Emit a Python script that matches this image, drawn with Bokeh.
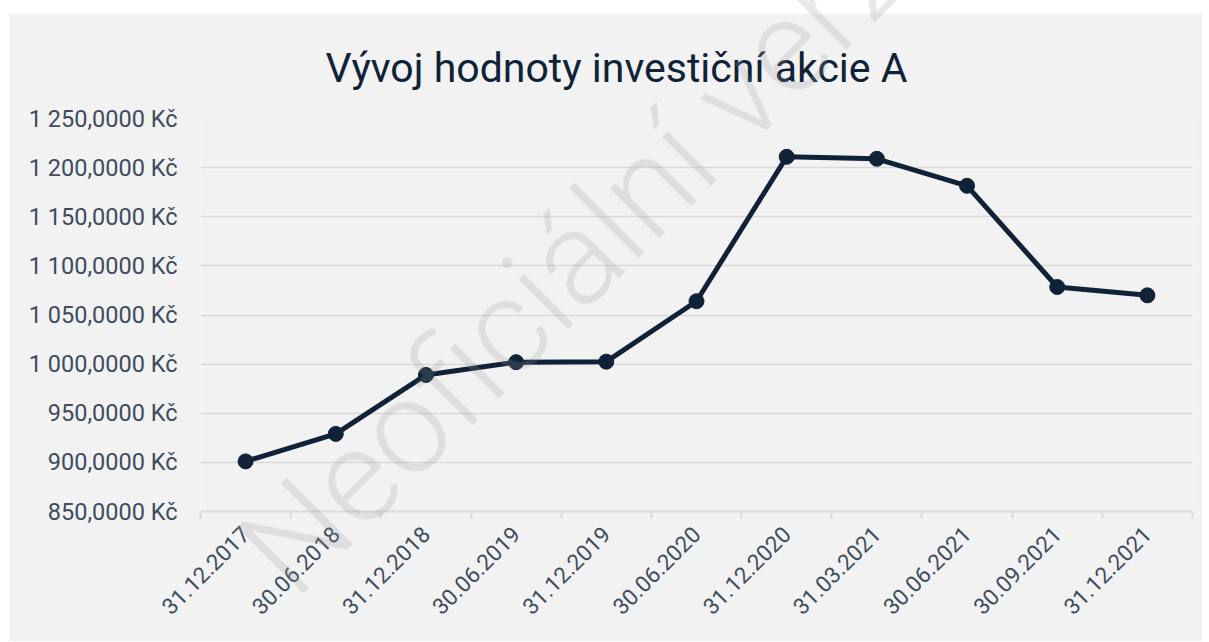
import math
from bokeh.plotting import figure
from bokeh.models import Range1d, FixedTicker, CustomJSTickFormatter, Div, Spacer
from bokeh.layouts import column, row
from bokeh.embed import file_html
from bokeh.resources import INLINE

# ---- data ----
dates = ["31.12.2017", "30.06.2018", "31.12.2018", "30.06.2019", "31.12.2019",
         "30.06.2020", "31.12.2020", "31.03.2021", "30.06.2021", "30.09.2021",
         "31.12.2021"]
values = [901.0, 929.0, 989.0, 1002.0, 1002.5, 1064.0, 1211.0, 1209.0, 1181.5,
          1078.5, 1070.0]
y_ticks = [850, 900, 950, 1000, 1050, 1100, 1150, 1200, 1250]
title_text = "Vývoj hodnoty investiční akcie A"
watermark_text = "Neoficiální verze"

NAVY = "#0f2238"
LABEL = "#3e4c5e"
GRID = "#d9d9d9"
BG = "#f2f2f2"

n = len(dates)
xs = [i + 0.5 for i in range(n)]

p = figure(width=1193, height=628, output_backend="svg", toolbar_location=None,
           x_range=Range1d(0, n), y_range=Range1d(y_ticks[0], y_ticks[-1]),
           min_border_left=191, min_border_right=10, min_border_top=105,
           min_border_bottom=130, background_fill_color=BG,
           border_fill_color=BG, outline_line_color=None)

p.title.text = title_text
p.title.text_font = "Roboto"
p.title.text_font_size = "41px"
p.title.text_font_style = "normal"
p.title.text_color = NAVY
p.title.align = "left"
p.title.offset = 125
p.title.standoff = 54

# x axis
xa = p.xaxis[0]
xa.ticker = FixedTicker(ticks=xs, minor_ticks=list(range(n + 1)))
xa.formatter = CustomJSTickFormatter(args=dict(labels=dates),
                                     code="return labels[Math.floor(tick)];")
xa.major_label_orientation = math.pi / 4
xa.major_tick_line_color = None
xa.major_tick_out = 0
xa.major_tick_in = 0
xa.minor_tick_line_color = GRID
xa.minor_tick_line_width = 2
xa.minor_tick_out = 7
xa.minor_tick_in = 0
xa.axis_line_color = GRID
xa.axis_line_width = 2
xa.major_label_standoff = 12
xa.major_label_text_font = "Roboto"
xa.major_label_text_font_size = "22.5px"
xa.major_label_text_color = LABEL

# y axis
ya = p.yaxis[0]
ya.ticker = FixedTicker(ticks=y_ticks)
ya.formatter = CustomJSTickFormatter(code="""
const s = tick.toFixed(4).split('.');
const ip = s[0].replace(/\\B(?=(\\d{3})+(?!\\d))/g, ' ');
return ip + ',' + s[1] + ' Kč';
""")
ya.axis_line_color = None
ya.major_tick_line_color = None
ya.minor_tick_line_color = None
ya.major_tick_out = 0
ya.major_tick_in = 0
ya.major_label_standoff = 23
ya.major_label_text_font = "Roboto"
ya.major_label_text_font_size = "23.5px"
ya.major_label_text_color = LABEL

p.xgrid.visible = False
p.ygrid.ticker = FixedTicker(ticks=y_ticks)
p.ygrid.grid_line_color = GRID
p.ygrid.grid_line_width = 1.5

p.line(xs, values, line_color=NAVY, line_width=5, line_join="round")
p.scatter(xs, values, size=15, fill_color=NAVY, line_color=NAVY)

# watermark overlay (real text), spanning the whole chart like the original
wm_size = 132
wm_base = round(0.8415 * wm_size)
wm_left, wm_baseline_y = 295, 602
wm_html = (
    '<span style="position:fixed; left:%dpx; top:%dpx; '
    "font-family:'Roboto Light', Roboto; font-weight:300; font-size:%dpx; "
    'line-height:%dpx; white-space:nowrap; color:rgba(150,150,150,0.22); '
    'pointer-events:none; transform-origin:0px %dpx; '
    'transform:rotate(-45deg);">%s</span>'
    % (wm_left, wm_baseline_y - wm_base, wm_size, wm_size, wm_base, watermark_text)
)
wm = Div(text=wm_html, width=1, height=1)

layout = column(Spacer(height=13), row(Spacer(width=9), p), wm)

open("out.html", "w").write(file_html(layout, INLINE))
